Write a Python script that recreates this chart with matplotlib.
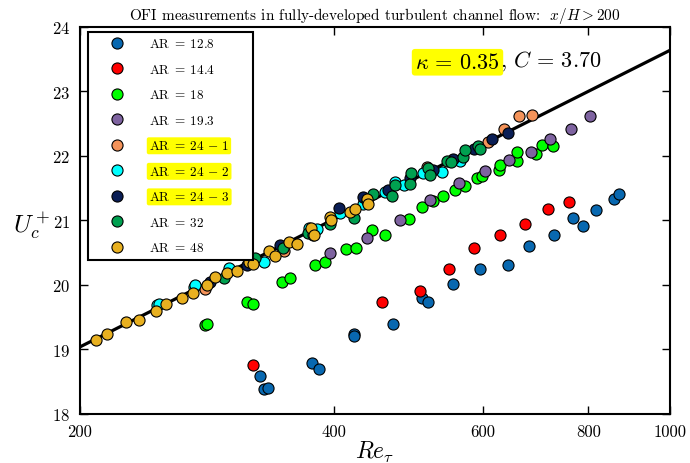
import numpy as np
import matplotlib
matplotlib.use("Agg")
import matplotlib.pyplot as plt
from matplotlib.ticker import NullLocator

plt.rcParams['font.family'] = 'serif'
plt.rcParams['font.serif'] = ['cmr10']
plt.rcParams['mathtext.fontset'] = 'cm'
plt.rcParams['axes.unicode_minus'] = False
plt.rcParams['axes.formatter.use_mathtext'] = True

# --- data ---
re_128 = [327, 330, 334, 377, 384, 422, 422, 470, 509, 517, 553, 596, 643, 680, 729, 768, 788, 817, 858, 870]
u_128 = [18.58, 18.39, 18.40, 18.79, 18.70, 19.24, 19.20, 19.40, 19.79, 19.73, 20.01, 20.24, 20.30, 20.60, 20.78, 21.03, 20.91, 21.16, 21.33, 21.41]

re_144 = [321, 456, 505, 547, 586, 629, 673, 716, 759]
u_144 = [18.76, 19.74, 19.91, 20.24, 20.57, 20.78, 20.94, 21.17, 21.28]

re_18 = [281, 283, 315, 321, 347, 355, 380, 390, 413, 425, 443, 459, 491, 509, 524, 538, 556, 572, 591, 599, 627, 629, 659, 659, 694, 706, 727]
u_18 = [19.37, 19.40, 19.73, 19.70, 20.04, 20.10, 20.30, 20.36, 20.55, 20.57, 20.85, 20.78, 21.02, 21.20, 21.30, 21.37, 21.47, 21.53, 21.65, 21.69, 21.78, 21.86, 21.92, 22.06, 22.03, 22.17, 22.15]

re_193 = [396, 438, 479, 520, 562, 603, 645, 684, 721, 764, 804]
u_193 = [20.49, 20.72, 21.00, 21.31, 21.58, 21.76, 21.93, 22.06, 22.26, 22.42, 22.62]

re_24a = [281, 349, 516, 609, 636, 662, 686]
u_24a = [19.93, 20.52, 21.83, 22.21, 22.42, 22.62, 22.63]

re_24b = [247, 248, 273, 274, 300, 330, 373, 382, 407, 433, 459, 472, 484, 510, 537, 564]
u_24b = [19.68, 19.71, 19.96, 19.99, 20.26, 20.36, 20.88, 20.86, 21.11, 21.25, 21.44, 21.59, 21.55, 21.73, 21.75, 21.92]

re_24c = [285, 315, 345, 405, 433, 463, 492, 524, 553, 586, 616, 643]
u_24c = [20.04, 20.30, 20.61, 21.19, 21.36, 21.47, 21.65, 21.78, 21.95, 22.11, 22.26, 22.35]

re_32 = [296, 322, 348, 372, 378, 396, 422, 438, 445, 469, 472, 492, 494, 517, 520, 544, 550, 569, 572, 593, 596]
u_32 = [20.10, 20.41, 20.57, 20.80, 20.77, 20.94, 21.03, 21.30, 21.41, 21.37, 21.55, 21.56, 21.73, 21.81, 21.70, 21.92, 21.90, 21.98, 22.09, 22.15, 22.11]

re_48 = [209, 215, 227, 235, 246, 253, 264, 272, 283, 289, 299, 307, 317, 321, 335, 340, 354, 361, 376, 379, 395, 397, 418, 423, 437, 439]
u_48 = [19.15, 19.24, 19.43, 19.45, 19.60, 19.70, 19.80, 19.88, 19.99, 20.12, 20.19, 20.22, 20.35, 20.32, 20.53, 20.44, 20.67, 20.63, 20.88, 20.78, 21.05, 21.00, 21.13, 21.17, 21.33, 21.25]

labels = [r'$\mathrm{AR} \;=\; 12.8$', r'$\mathrm{AR} \;=\; 14.4$', r'$\mathrm{AR} \;=\; 18$', r'$\mathrm{AR} \;=\; 19.3$',
          r'$\mathrm{AR} \;=\; 24 \,-\, 1$', r'$\mathrm{AR} \;=\; 24 \,-\, 2$', r'$\mathrm{AR} \;=\; 24 \,-\, 3$',
          r'$\mathrm{AR} \;=\; 32$', r'$\mathrm{AR} \;=\; 48$']
colors = ['#0868b0', '#ff0000', '#00ff00', '#7e63a0', '#f4935a', '#00ffff', '#0a1e55', '#00a050', '#e8b020']
series = [(re_128, u_128), (re_144, u_144), (re_18, u_18), (re_193, u_193), (re_24a, u_24a),
          (re_24b, u_24b), (re_24c, u_24c), (re_32, u_32), (re_48, u_48)]

kappa = 0.35
C = 3.70
C_shift = 0.20  # line in the figure sits a bit above ln(Re)/kappa + C

fig = plt.figure(figsize=(6.9, 4.64), dpi=100)
ax = fig.add_axes([0.116, 0.106, 0.855, 0.834])

re_line = np.logspace(np.log10(200), 3, 100)
ax.plot(re_line, np.log(re_line) / kappa + C + C_shift, color='black', lw=2.3, zorder=1)

for (x, y), c, lab in zip(series, colors, labels):
    ax.plot(x, y, 'o', color=c, mec='black', mew=0.8, ms=8, label=lab, zorder=2)

ax.set_xscale('log')
ax.set_xlim(200, 1000)
ax.set_ylim(18, 24)
ax.set_xticks([200, 400, 600, 800, 1000])
ax.set_xticklabels(['200', '400', '600', '800', '1000'])
ax.xaxis.set_minor_locator(NullLocator())
ax.set_yticks([18, 19, 20, 21, 22, 23, 24])
ax.tick_params(direction='in', length=6, width=1, labelsize=12, top=True, right=True, pad=7)
for s in ax.spines.values():
    s.set_linewidth(1.5)

ax.set_xlabel(r'$Re_\tau$', fontsize=17, labelpad=0)
ax.set_ylabel(r'$U_c^+$', fontsize=18, rotation=0, va='center', ha='center')
ax.yaxis.set_label_coords(-0.082, 0.49)
ax.set_title(r'OFI measurements in fully-developed turbulent channel flow:  $x/H > 200$', fontsize=11)

leg = ax.legend(loc='upper left', bbox_to_anchor=(0.0136, 0.0, 0.2797, 0.987), mode='expand',
                borderaxespad=0, numpoints=1, fontsize=9.5, labelspacing=0.95, handlelength=3.6,
                handletextpad=0.6, fancybox=False, edgecolor='black', framealpha=1)
leg.get_frame().set_linewidth(1.5)
for i in (4, 5, 6):
    leg.get_texts()[i].set_bbox(dict(facecolor='yellow', edgecolor='none', boxstyle='round,pad=0.15'))

t1 = ax.text(0.568, 0.893, r'$\kappa \,=\, 0.35$', transform=ax.transAxes, fontsize=16, va='baseline',
             bbox=dict(facecolor='yellow', edgecolor='none', boxstyle='round,pad=0.15'))
ax.annotate(r', $C \,=\, 3.70$', xy=(1, 0), xycoords=t1, fontsize=16, va='bottom')

fig.savefig('out.png', dpi=100)
